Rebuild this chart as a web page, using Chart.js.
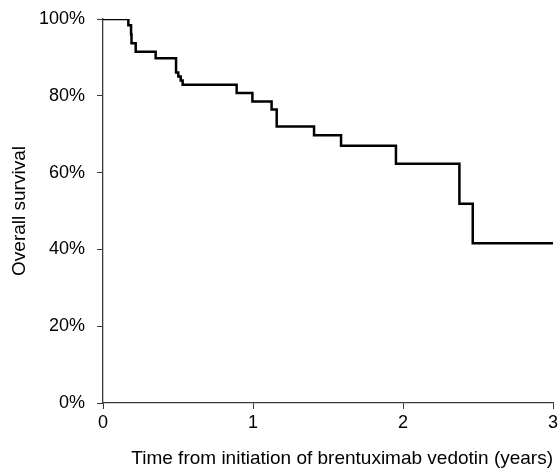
<!DOCTYPE html>
<html lang="en">
<head>
<meta charset="UTF-8">
<title>Overall survival</title>
<script src="https://cdn.jsdelivr.net/npm/chart.js"></script>
<style>
    html, body { margin: 0; padding: 0; background: #fff; }
    #wrap { width: 559px; height: 470px; }
</style>
</head>
<body>
<div id="wrap"><canvas id="km" width="559" height="470"></canvas></div>
<script>
// time (years) at which survival changes, and survival (%) from that time on
const tiempos = [0, 0.169, 0.187, 0.19, 0.218, 0.351, 0.487, 0.502, 0.518, 0.531, 0.891, 0.996, 1.124, 1.158, 1.407, 1.587, 1.953, 2.376, 2.465, 3.0];
const supervivencia = [100, 98.4, 96.0, 93.7, 91.5, 89.8, 86.1, 85.0, 84.0, 82.9, 80.7, 78.5, 76.4, 72.0, 69.7, 67.0, 62.3, 51.9, 41.6, 41.6];
const xTicks = [0, 1, 2, 3];
const yTicks = [0, 20, 40, 60, 80, 100];

const puntos = tiempos.map((t, i) => ({ x: t, y: supervivencia[i] }));
const fuente = { family: '"Liberation Sans", Arial, sans-serif', size: 18 };
const fuenteTitulo = { family: '"Liberation Sans", Arial, sans-serif', size: 19 };
const ejeColor = '#3a3a3a';

new Chart(document.getElementById('km'), {
    type: 'line',
    data: {
        datasets: [{
            data: puntos,
            stepped: true,
            borderColor: '#000',
            borderWidth: 2.5,
            pointRadius: 0,
            fill: false
        }]
    },
    options: {
        responsive: false,
        animation: false,
        layout: { padding: { top: 19, right: 6, left: 0, bottom: 0 } },
        plugins: { legend: { display: false }, tooltip: { enabled: false } },
        scales: {
            x: {
                type: 'linear',
                min: 0, max: 3,
                afterBuildTicks: s => { s.ticks = xTicks.map(v => ({ value: v })); },
                afterFit: s => { s.height = 67; s.paddingRight = 0; s.paddingLeft = 0; },
                grid: { drawOnChartArea: false, drawTicks: true, tickLength: 6, color: ejeColor },
                border: { display: true, color: ejeColor, width: 1.3 },
                ticks: { color: '#000', font: fuente, padding: 3, maxRotation: 0 },
                title: {
                    display: true,
                    text: 'Time from initiation of brentuximab vedotin (years)',
                    color: '#000', font: fuenteTitulo, align: 'end',
                    padding: { top: 8, bottom: 0 }
                }
            },
            y: {
                min: 0, max: 100,
                afterBuildTicks: s => { s.ticks = yTicks.map(v => ({ value: v })); },
                afterFit: s => { s.width = 103; s.paddingTop = 0; s.paddingBottom = 0; },
                grid: { drawOnChartArea: false, drawTicks: true, tickLength: 6, color: ejeColor },
                border: { display: true, color: ejeColor, width: 1.3 },
                ticks: { color: '#000', font: fuente, padding: 12, callback: v => v + '%' },
                title: {
                    display: true,
                    text: 'Overall survival',
                    color: '#000', font: fuenteTitulo,
                    padding: { top: 8, bottom: 0 }
                }
            }
        }
    }
});
</script>
</body>
</html>
